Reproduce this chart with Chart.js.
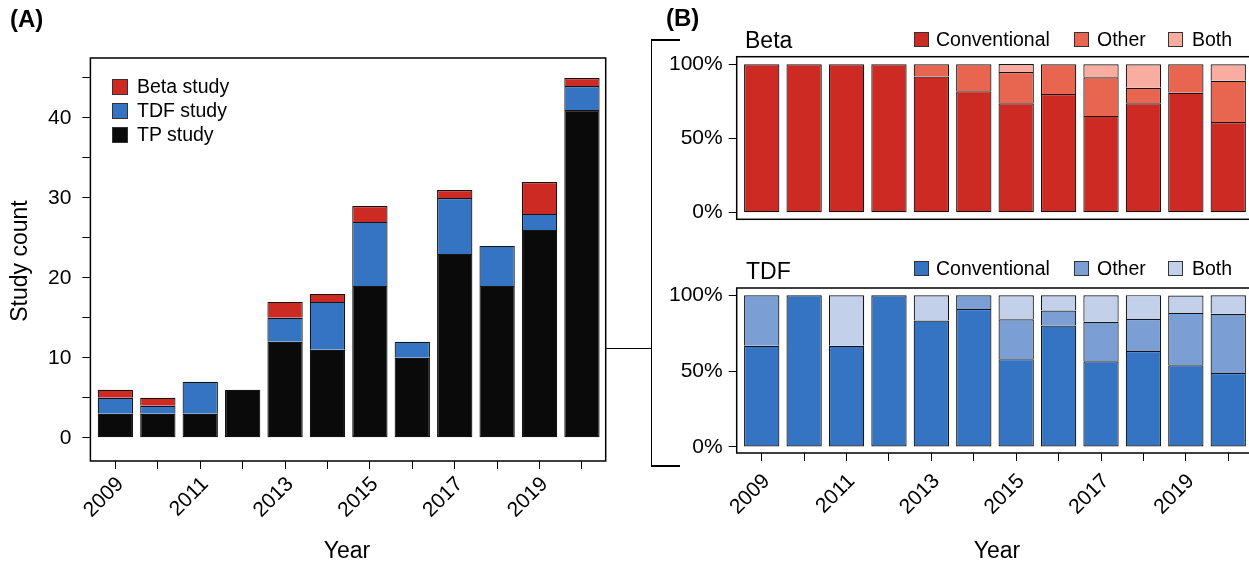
<!DOCTYPE html>
<html>
<head>
<meta charset="utf-8">
<script src="https://cdn.jsdelivr.net/npm/chart.js@4.4.1/dist/chart.umd.min.js"></script>
<style>
  body { margin: 0; width: 1249px; height: 565px; overflow: hidden; background: #fff; position: relative;
         font-family: "Liberation Sans", Arial, sans-serif; color: #000; }
  canvas { position: absolute; }
  .t { position: absolute; white-space: nowrap; line-height: 1; }
  .sw { position: absolute; box-sizing: border-box; border: 1px solid #333; }
  .ln { position: absolute; background: #000; }
</style>
</head>
<body>
<canvas id="chartA" width="640" height="565" style="left:0;top:0"></canvas>
<canvas id="chartBeta" width="620" height="240" style="left:640px;top:0"></canvas>
<canvas id="chartTdf" width="620" height="325" style="left:640px;top:240px"></canvas>

<div class="t" style="left:10px;top:7px;font-size:24px;font-weight:bold">(A)</div>
<div class="t" style="left:666px;top:6px;font-size:24px;font-weight:bold">(B)</div>
<div class="t" style="left:19px;top:261px;font-size:23px;transform:translate(-50%,-50%) rotate(-90deg)">Study count</div>
<div class="t" style="left:347px;top:539px;font-size:23px;transform:translateX(-50%)">Year</div>
<div class="t" style="left:997px;top:539px;font-size:23px;transform:translateX(-50%)">Year</div>
<div class="t" style="left:745px;top:29px;font-size:23px">Beta</div>
<div class="t" style="left:746px;top:260px;font-size:23px">TDF</div>

<div id="legendA"></div>
<div id="legendBeta"></div>
<div id="legendTdf"></div>

<!-- bracket joining the two panels -->
<div class="ln" style="left:605px;top:347.5px;width:46px;height:1.5px"></div>
<div class="ln" style="left:650.5px;top:39px;width:1.5px;height:427px"></div>
<div class="ln" style="left:650.5px;top:39px;width:29px;height:1.5px"></div>
<div class="ln" style="left:650.5px;top:465px;width:29px;height:1.5px"></div>

<script>
const years = [2009, 2010, 2011, 2012, 2013, 2014, 2015, 2016, 2017, 2018, 2019, 2020];

// panel A: study counts
const tpStudies   = [3, 3, 3, 6, 12, 11, 19, 10, 23, 19, 26, 41];
const tdfStudies  = [2, 1, 4, 0, 3, 6, 8, 2, 7, 5, 2, 3];
const betaStudies = [1, 1, 0, 0, 2, 1, 2, 0, 1, 0, 4, 1];
const countTicks = [0, 5, 10, 15, 20, 25, 30, 35, 40, 45];

// panel B: share of each method (%)
const betaConventional = [100, 100, 100, 100, 91.7, 81.8, 73.7, 80, 65.2, 73.7, 80.8, 61.1];
const betaOther        = [0, 0, 0, 0, 8.3, 18.2, 21.1, 20, 26.1, 10.5, 19.2, 27.8];
const betaBoth         = [0, 0, 0, 0, 0, 0, 5.3, 0, 8.7, 15.8, 0, 11.1];
const tdfConventional  = [66.7, 100, 66.7, 100, 83.3, 90.9, 57.9, 80, 56.5, 63.2, 53.8, 48.8];
const tdfOther         = [33.3, 0, 0, 0, 0, 9.1, 26.3, 10, 26.1, 21.1, 34.6, 39.0];
const tdfBoth          = [0, 0, 33.3, 0, 16.7, 0, 15.8, 10, 17.4, 15.8, 11.5, 12.2];
const percentTicks = [0, 50, 100];

const X_MIN = 2008.41, X_MAX = 2020.56;
const RED = ['#cd2a24', '#e8664f', '#f8ada0'];
const BLUE = ['#3574c3', '#7b9fd5', '#c3d0ea'];

Chart.defaults.font.family = '"Liberation Sans", Arial, sans-serif';
Chart.defaults.font.size = 21;
Chart.defaults.color = '#000';

const boxPlugin = {
    id: 'box',
    afterDatasetsDraw(chart) {
        const { ctx, chartArea: a } = chart;
        ctx.save();
        ctx.strokeStyle = '#000';
        ctx.lineWidth = 1.5;
        ctx.strokeRect(a.left, a.top, a.right - a.left, a.bottom - a.top);
        ctx.restore();
    }
};

function barSet(label, data, color, bottom) {
    return {
        label, data,
        backgroundColor: color,
        borderColor: '#141414',
        borderWidth: { top: 1.2, left: 1.2, right: 1.2, bottom: bottom ? 1.2 : 0 },
        borderSkipped: false,
        categoryPercentage: 1,
        barPercentage: 0.833
    };
}

function xAxis(height, show, pad) {
    return {
        type: 'linear', min: X_MIN, max: X_MAX, stacked: true, display: show, offset: false,
        afterBuildTicks: s => { s.ticks = years.map(v => ({ value: v })); },
        afterFit: s => { s.height = height; },
        grid: { offset: false, drawOnChartArea: false, drawTicks: true, tickLength: 8, color: '#000', lineWidth: 1 },
        border: { display: false },
        ticks: { autoSkip: false, minRotation: 45, maxRotation: 45, padding: pad, labelOffset: 5,
                 callback: v => (v % 2 === 1 ? String(v) : '') }
    };
}

function yAxis(min, max, ticks, width, pad, fmt) {
    return {
        min, max, stacked: true,
        afterBuildTicks: s => { s.ticks = ticks.map(v => ({ value: v })); },
        afterFit: s => { s.width = width; },
        grid: { drawOnChartArea: false, drawTicks: true, tickLength: 8, color: '#000', lineWidth: 1 },
        border: { display: false },
        ticks: { padding: pad, callback: fmt }
    };
}

const baseOpts = {
    responsive: false,
    animation: false,
    plugins: { legend: { display: false }, tooltip: { enabled: false } }
};

new Chart(document.getElementById('chartA'), {
    type: 'bar',
    data: {
        labels: years,
        datasets: [
            barSet('TP study', tpStudies, '#0a0a0a', true),
            barSet('TDF study', tdfStudies, '#3574c3', false),
            barSet('Beta study', betaStudies, '#cd2a24', false)
        ]
    },
    options: {
        ...baseOpts,
        layout: { padding: { top: 58, right: 34.3, bottom: 0, left: 0 } },
        scales: {
            x: xAxis(104, true, 3),
            y: yAxis(-2.9, 47.5, countTicks, 90.4, 11, v => (v % 10 === 0 ? String(v) : ''))
        }
    },
    plugins: [boxPlugin]
});

new Chart(document.getElementById('chartBeta'), {
    type: 'bar',
    data: {
        labels: years,
        datasets: [
            barSet('Conventional', betaConventional, RED[0], true),
            barSet('Other', betaOther, RED[1], false),
            barSet('Both', betaBoth, RED[2], false)
        ]
    },
    options: {
        ...baseOpts,
        layout: { padding: { top: 56.7, right: 8, bottom: 20.7, left: 0 } },
        scales: {
            x: xAxis(0, false, 0),
            y: yAxis(-4.45, 105.1, percentTicks, 96.7, 6, v => v + '%')
        }
    },
    plugins: [boxPlugin]
});

new Chart(document.getElementById('chartTdf'), {
    type: 'bar',
    data: {
        labels: years,
        datasets: [
            barSet('Conventional', tdfConventional, BLUE[0], true),
            barSet('Other', tdfOther, BLUE[1], false),
            barSet('Both', tdfBoth, BLUE[2], false)
        ]
    },
    options: {
        ...baseOpts,
        layout: { padding: { top: 48, right: 8, bottom: 0, left: 0 } },
        scales: {
            x: xAxis(112, true, 8),
            y: yAxis(-3.96, 104.8, percentTicks, 96.7, 6, v => v + '%')
        }
    },
    plugins: [boxPlugin]
});

// legends as plain html
function legend(id, items, xs, swatchTop, size) {
    const box = document.getElementById(id);
    items.forEach((it, i) => {
        const sw = document.createElement('div');
        sw.className = 'sw';
        sw.style.cssText = `left:${xs[i][0]}px;top:${swatchTop[i]}px;width:${size}px;height:${size}px;background:${it.color}`;
        box.appendChild(sw);
        const tx = document.createElement('div');
        tx.className = 't';
        tx.style.cssText = `left:${xs[i][1]}px;top:${swatchTop[i] - 2}px;font-size:19.5px`;
        tx.innerText = it.label;
        box.appendChild(tx);
    });
}

legend('legendA',
    [{ label: 'Beta study', color: '#cd2a24' }, { label: 'TDF study', color: '#3574c3' }, { label: 'TP study', color: '#0a0a0a' }],
    [[112, 137], [112, 137], [112, 137]], [79, 103, 127], 16);
legend('legendBeta',
    [{ label: 'Conventional', color: RED[0] }, { label: 'Other', color: RED[1] }, { label: 'Both', color: RED[2] }],
    [[914, 936], [1074, 1097], [1168, 1192]], [31.5, 31.5, 31.5], 15);
legend('legendTdf',
    [{ label: 'Conventional', color: BLUE[0] }, { label: 'Other', color: BLUE[1] }, { label: 'Both', color: BLUE[2] }],
    [[914, 936], [1074, 1097], [1168, 1192]], [261, 261, 261], 15);
</script>
</body>
</html>
